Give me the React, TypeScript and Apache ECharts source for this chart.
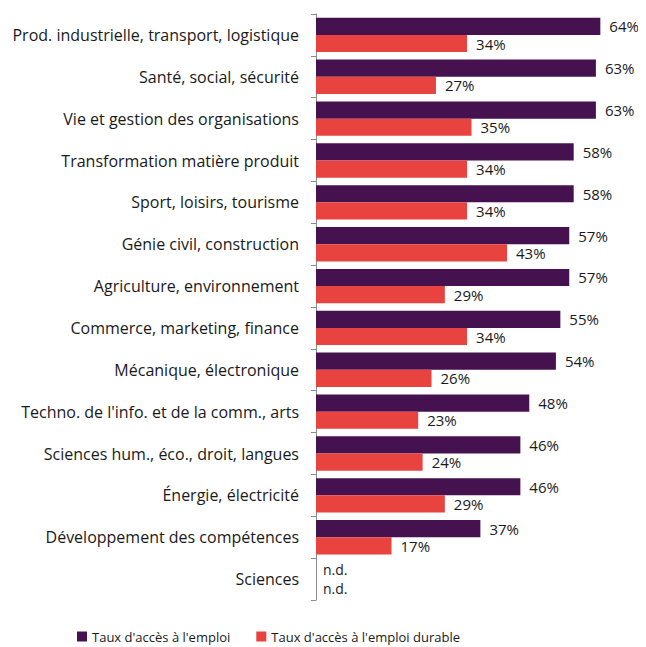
import React, { useEffect, useRef } from "react";
import * as echarts from "echarts";

const categories = [
  "Prod. industrielle, transport, logistique",
  "Santé, social, sécurité",
  "Vie et gestion des organisations",
  "Transformation matière produit",
  "Sport, loisirs, tourisme",
  "Génie civil, construction",
  "Agriculture, environnement",
  "Commerce, marketing, finance",
  "Mécanique, électronique",
  "Techno. de l'info. et de la comm., arts",
  "Sciences hum., éco., droit, langues",
  "Énergie, électricité",
  "Développement des compétences",
  "Sciences",
];
const tauxEmploi: (number | null)[] = [64, 63, 63, 58, 58, 57, 57, 55, 54, 48, 46, 46, 37, null];
const tauxDurable: (number | null)[] = [34, 27, 35, 34, 34, 43, 29, 34, 26, 23, 24, 29, 17, null];
const seriesNames = ["Taux d'accès à l'emploi", "Taux d'accès à l'emploi durable"];

const FONT = "'Open Sans', 'Noto Sans', sans-serif";

function toData(arr: (number | null)[], dy: number) {
  return arr.map((v) =>
    v === null
      ? { value: 0, label: { formatter: "n.d.", distance: 7, fontSize: 14, offset: [0, dy] } }
      : { value: v }
  );
}

export default function App() {
  const ref = useRef<HTMLDivElement>(null);
  useEffect(() => {
    if (!ref.current) return;
    const chart = echarts.init(ref.current, undefined, { renderer: "svg" });
    const label = {
      show: true,
      position: "right" as const,
      distance: 9,
      formatter: "{c}%",
      color: "#1a1a1a",
      fontSize: 15,
      fontFamily: FONT,
    };
    chart.setOption({
      animation: false,
      textStyle: { fontFamily: FONT },
      grid: { left: 308, top: 6, bottom: 47, width: 311, containLabel: false },
      xAxis: {
        type: "value",
        min: 0,
        max: 70,
        show: false,
      },
      yAxis: {
        type: "category",
        inverse: true,
        data: categories,
        axisLine: { show: true, lineStyle: { color: "#8c8c8c", width: 1 } },
        axisTick: { show: true, length: 5, lineStyle: { color: "#8c8c8c" } },
        axisLabel: { margin: 17, color: "#1a1a1a", fontSize: 16, fontFamily: FONT },
      },
      legend: {
        top: 617,
        left: 64,
        itemWidth: 10,
        itemHeight: 10,
        itemGap: 26,
        icon: "rect",
        textStyle: { fontSize: 13, color: "#1a1a1a", fontFamily: FONT },
        data: seriesNames,
      },
      series: [
        {
          name: seriesNames[0],
          type: "bar",
          data: toData(tauxEmploi, -1),
          itemStyle: { color: "#45124F" },
          barGap: "0%",
          barCategoryGap: "18%",
          label,
        },
        {
          name: seriesNames[1],
          type: "bar",
          data: toData(tauxDurable, 1),
          itemStyle: { color: "#E9433F" },
          label,
        },
      ],
    });
    return () => chart.dispose();
  }, []);
  return <div ref={ref} style={{ width: 638, height: 639 }} />;
}
